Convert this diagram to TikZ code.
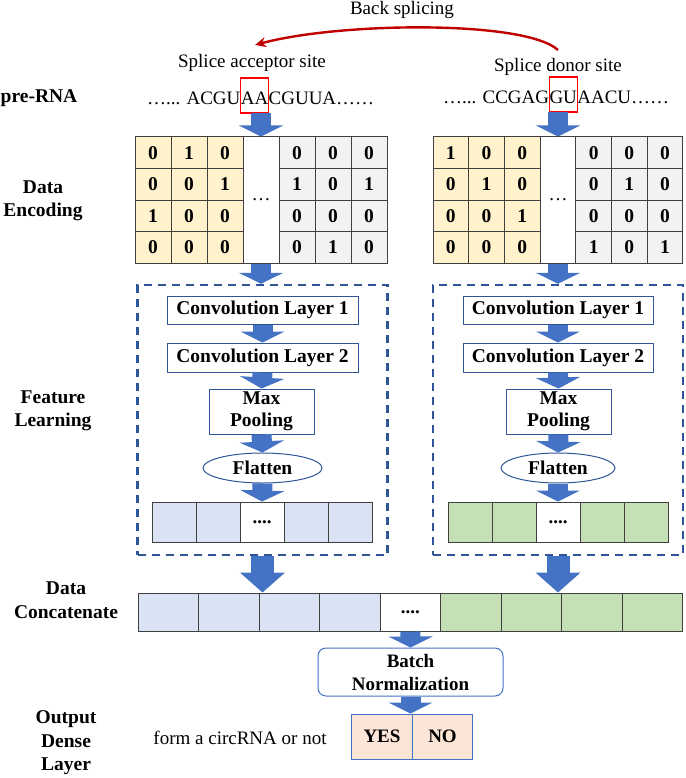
\documentclass[tikz,border=0pt]{standalone}
\usepackage{fontspec}
\setmainfont{Liberation Serif}[BoldFont={Liberation Serif Bold},ItalicFont={Liberation Serif Italic}]
\usetikzlibrary{arrows.meta,calc,positioning,shapes.geometric}
\definecolor{ArrowClr}{RGB}{68,114,196}
\definecolor{DashClr}{RGB}{47,85,151}
\definecolor{SpliceClr}{RGB}{192,0,0}
\definecolor{YellowClr}{RGB}{255,242,204}
\definecolor{GreyClr}{RGB}{242,242,242}
\definecolor{BlueCellClr}{RGB}{218,227,243}
\definecolor{GreenCellClr}{RGB}{197,224,180}
\definecolor{PeachClr}{RGB}{251,229,214}
\definecolor{GridClr}{RGB}{64,64,64}
\newcommand{\mainsize}{\fontsize{19}{23}\selectfont}

\begin{document}
\begin{tikzpicture}[x=1pt,y=-1pt,
  font=\mainsize,
  lbl/.style={font=\fontsize{19.5}{23.5}\selectfont\bfseries,align=center},
  fatarrow/.style={draw=ArrowClr,line width=20pt,-{Triangle[width=44pt,length=11pt]}},
  bigarrow/.style={draw=ArrowClr,line width=23pt,-{Triangle[width=44pt,length=20pt]}},
  seqtxt/.style={inner sep=0pt,outer sep=0pt},
  sitebox/.style={draw=red,line width=1.2pt,inner xsep=0.4pt,inner ysep=0pt,outer sep=0pt,
    text height=19pt,text depth=0pt,minimum height=35pt},
  bitcell/.style={draw=GridClr,line width=1pt,minimum height=31.5pt,inner sep=0pt,
    font=\fontsize{19.5}{21}\selectfont\bfseries},
  convbox/.style={draw=DashClr,line width=1pt,fill=white,inner sep=0pt,align=center,
    font=\fontsize{19.5}{22.5}\selectfont\bfseries},
  featbox/.style={draw=DashClr,line width=2.4pt,dash pattern=on 8pt off 6pt,
    minimum width=250pt,minimum height=270pt},
  vcell/.style={draw=GridClr,line width=1pt,minimum width=44pt,minimum height=40pt,
    inner sep=0pt,font=\mainsize\bfseries},
  ccell/.style={draw=GridClr,line width=1pt,minimum width=60.55pt,minimum height=38pt,
    inner sep=0pt,font=\mainsize\bfseries},
  outcell/.style={draw=ArrowClr,line width=1pt,fill=PeachClr,minimum width=60.5pt,
    minimum height=45pt,inner sep=0pt,font=\mainsize\bfseries},
]
\useasboundingbox (0,0) rectangle (685,778);

% row labels
\node[lbl] (preRNA) at (39,98) {pre-RNA};
\node[lbl] (encLbl) at (43,201) {Data\\Encoding};
\node[lbl] (featLbl) at (53,411) {Feature\\Learning};
\node[lbl] (catLbl) at (66,600) {Data\\Concatenate};
\node[lbl] (outLbl) at (66,743) {Output\\Dense\\Layer};

% splice sites
\node (back) at (402,10) {Back splicing};
\node (acceptor) at (252,63) {Splice acceptor site};
\node (donor) at (558,67) {Splice donor site};

\node[seqtxt,anchor=base west] (seqL1) at (147,105) {…... ACGU};
\node[sitebox,base right=0pt of seqL1] (acc) {AA};
\node[seqtxt,base right=0pt of acc] (seqL2) {CGUUA……};

\node[seqtxt,anchor=base west] (seqR1) at (443,104) {…... CCGAG};
\node[sitebox,base right=0pt of seqR1] (don) {GU};
\node[seqtxt,base right=0pt of don] (seqR2) {AACU……};

\coordinate (arcR) at (558,50);
\coordinate (arcL) at (255,45);
\draw[SpliceClr,line width=2.4pt,-{Stealth[length=11pt,width=10pt]}]
  (arcR) .. controls (525,20) and (340,22) .. (arcL);

% one-hot encoding
\foreach \row [count=\r] in {{0,1,0,0,0,0},{0,0,1,1,0,1},{1,0,0,0,0,0},{0,0,0,0,1,0}}
  \foreach \v [count=\c] in \row {
    \pgfmathtruncatemacro{\k}{\c<4 ? \c : \c+1}
    \ifnum\c<4 \def\cf{YellowClr}\else\def\cf{GreyClr}\fi
    \node[bitcell,minimum width=36pt,fill=\cf] (bL\r\c) at (117+36*\k,121.25+31.5*\r) {\v};
  }
\node[bitcell,minimum width=36pt,minimum height=126pt,font=\mainsize] (gapL) at (261,200) {…};

\foreach \row [count=\r] in {{1,0,0,0,0,0},{0,1,0,0,1,0},{0,0,1,0,0,0},{0,0,0,1,0,1}}
  \foreach \v [count=\c] in \row {
    \pgfmathtruncatemacro{\k}{\c<4 ? \c : \c+1}
    \ifnum\c<4 \def\cf{YellowClr}\else\def\cf{GreyClr}\fi
    \node[bitcell,minimum width=35.7pt,fill=\cf] (bR\r\c) at (415.15+35.7*\k,121.25+31.5*\r) {\v};
  }
\node[bitcell,minimum width=35.7pt,minimum height=126pt,font=\mainsize] (gapR) at (558,200) {…};

\draw[fatarrow] (gapL.north |- acc.south) -- (gapL.north);
\draw[fatarrow] (gapR.north |- don.south) -- (gapR.north);

% feature learning
\node[featbox] (featL) at (262.5,420) {};
\node[featbox] (featR) at (558,420) {};
\draw[fatarrow] (gapL.south) -- (gapL.south |- featL.north);
\draw[fatarrow] (gapR.south) -- (gapR.south |- featR.north);

\node[convbox,minimum width=191pt,minimum height=28pt] (convL1) at (262.5,310) {Convolution Layer 1};
\node[convbox,minimum width=191pt,minimum height=29pt] (convL2) at (262.5,357.5) {Convolution Layer 2};
\node[convbox,minimum width=105pt,minimum height=45pt] (poolL) at (261.5,411.5) {Max\\Pooling};
\node[convbox,ellipse,minimum width=119pt,minimum height=30pt] (flatL) at (262.5,468) {Flatten};

\node[convbox,minimum width=190pt,minimum height=28pt] (convR1) at (558,310) {Convolution Layer 1};
\node[convbox,minimum width=190pt,minimum height=29pt] (convR2) at (558,357.5) {Convolution Layer 2};
\node[convbox,minimum width=105pt,minimum height=45pt] (poolR) at (558.5,411.5) {Max\\Pooling};
\node[convbox,ellipse,minimum width=114pt,minimum height=30pt] (flatR) at (558,468) {Flatten};

\foreach \i in {1,...,5}{
  \ifnum\i=3 \def\cf{white}\def\ct{....}\else\def\cf{BlueCellClr}\def\ct{}\fi
  \node[vcell,fill=\cf] (vL\i) at (130+44*\i,522) {\ct};
  \ifnum\i=3 \def\cf{white}\else\def\cf{GreenCellClr}\fi
  \node[vcell,fill=\cf] (vR\i) at (426+44*\i,522) {\ct};
}

\foreach \s in {L,R}{
  \draw[fatarrow] (conv\s1.south) -- (conv\s2.north);
  \draw[fatarrow] (conv\s2.south) -- (pool\s.north);
  \draw[fatarrow] (pool\s.south) -- (flat\s.north);
  \draw[fatarrow] (flat\s.south) -- (v\s3.north);
}

% concatenate
\foreach \i in {1,...,9}{
  \ifnum\i<5 \def\cf{BlueCellClr}\def\ct{}\else
    \ifnum\i=5 \def\cf{white}\def\ct{....}\else\def\cf{GreenCellClr}\def\ct{}\fi\fi
  \node[ccell,fill=\cf] (cat\i) at (107.725+60.55*\i,612) {\ct};
}
\draw[bigarrow] (featL.south) -- (featL.south |- cat1.north);
\draw[bigarrow] (featR.south) -- (featR.south |- cat9.north);

% output
\node[draw=ArrowClr,line width=1pt,rounded corners=8pt,minimum width=185pt,minimum height=48pt,
  inner sep=0pt,align=center,font=\mainsize\bfseries] (bn) at (410.5,672) {Batch\\Normalization};
\draw[fatarrow] (cat5.south) -- (bn.north);

\node[outcell] (yes) at (382,736.5) {YES};
\node[outcell,right=-1pt of yes] (no) {NO};
\draw[fatarrow] (bn.south) -- (bn.south |- yes.north);
\node (circ) at (240,738) {form a circRNA or not};

\end{tikzpicture}
\end{document}
